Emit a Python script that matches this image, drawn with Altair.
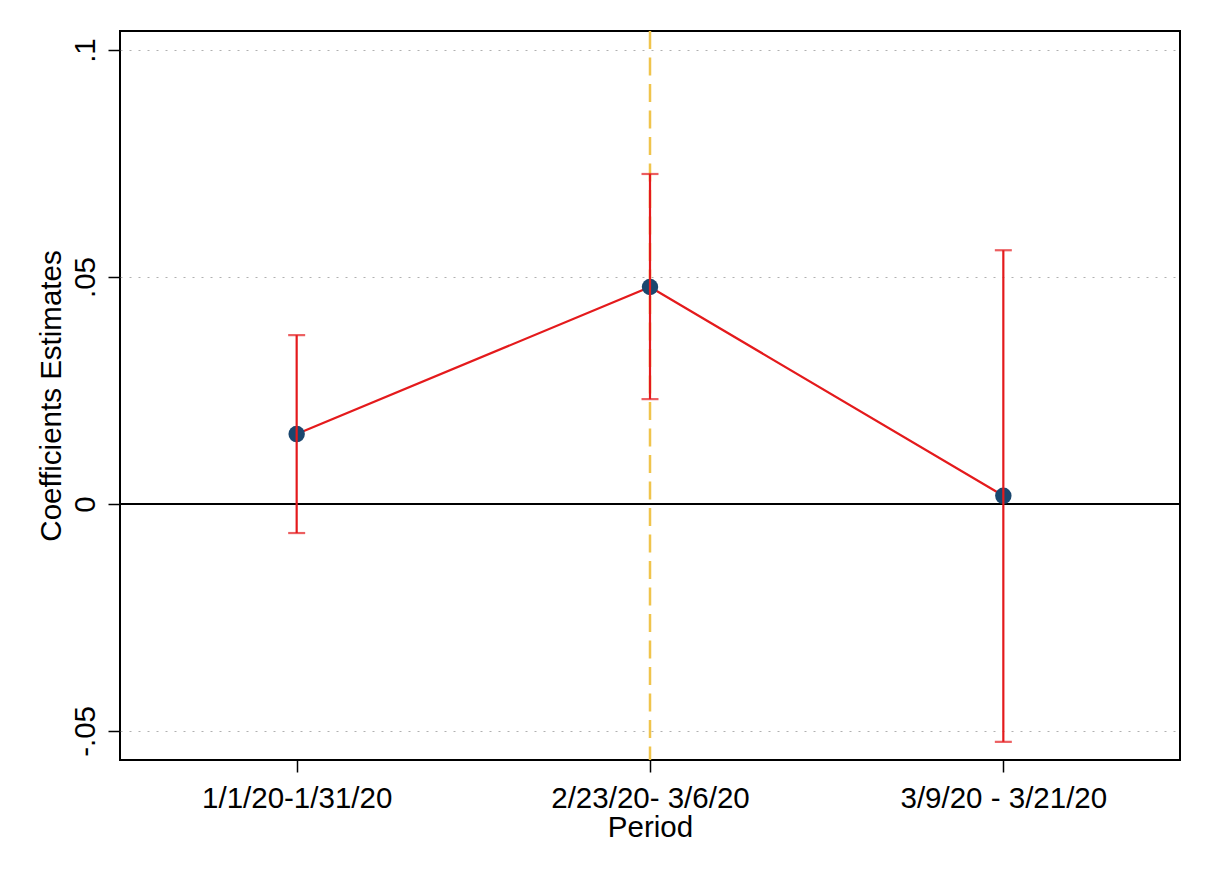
import altair as alt
import pandas as pd

periods = [1, 2, 3]
period_labels = ["1/1/20-1/31/20", "2/23/20- 3/6/20", "3/9/20 - 3/21/20"]
coef = [0.0154, 0.0478, 0.0018]
ci_low = [-0.0064, 0.0231, -0.0524]
ci_high = [0.0372, 0.0727, 0.0559]
y_ticks = [-0.05, 0, 0.05, 0.1]
y_tick_labels = ["-.05", "0", ".05", ".1"]
event_period = [2]
zero_line = [0]

df = pd.DataFrame({"period": periods, "label": period_labels, "coef": coef,
                   "lo": ci_low, "hi": ci_high})

x_label_expr = " : ".join(
    [f"datum.value == {p} ? '{l}'" for p, l in zip(periods, period_labels)]) + " : ''"
y_label_expr = " : ".join(
    [f"abs(datum.value - ({v})) < 1e-9 ? '{l}'" for v, l in zip(y_ticks, y_tick_labels)]) + " : ''"

FONT = "Liberation Sans"
RED = "#E41A1C"
NAVY = "#1A476F"

xscale = alt.Scale(domain=[0.5, 3.5], nice=False, zero=False)
yscale = alt.Scale(domain=[-0.0564, 0.1042], nice=False, zero=False)

xaxis = alt.Axis(values=periods, labelExpr=x_label_expr, title="Period", grid=False,
                 domain=False, tickSize=12, tickColor="black", tickWidth=1.5,
                 labelFont=FONT, labelFontSize=29.5, labelColor="black", labelPadding=12,
                 labelLimit=0, labelOverlap=False,
                 titleFont=FONT, titleFontSize=29.5, titleFontWeight="normal",
                 titleColor="black", titlePadding=1)
yaxis = alt.Axis(values=y_ticks, labelExpr=y_label_expr, title="Coefficients Estimates",
                 grid=True, gridColor="#b0b0b0", gridDash=[2, 7], gridWidth=1,
                 domain=False, tickSize=12, tickColor="black", tickWidth=1.5,
                 labelFont=FONT, labelFontSize=29.5, labelColor="black", labelAngle=270,
                 labelAlign="center", labelBaseline="alphabetic", labelPadding=14,
                 labelLimit=0, labelOverlap=False,
                 titleFont=FONT, titleFontSize=29.5, titleFontWeight="normal",
                 titleColor="black", titlePadding=4)

base = alt.Chart(df)

grid_layer = base.mark_point(opacity=0).encode(
    x=alt.X("period:Q", scale=xscale, axis=xaxis),
    y=alt.Y("coef:Q", scale=yscale, axis=yaxis),
)

zero = alt.Chart(pd.DataFrame({"z": zero_line})).mark_rule(color="black", strokeWidth=2).encode(
    y=alt.Y("z:Q", scale=yscale)
)

vline = alt.Chart(pd.DataFrame({"p": event_period})).mark_rule(
    color="#F0C44C", strokeWidth=2.5, strokeDash=[18, 8.5]
).encode(x=alt.X("p:Q", scale=xscale))

line = base.mark_line(color=RED, strokeWidth=2.2).encode(
    x=alt.X("period:Q", scale=xscale), y=alt.Y("coef:Q", scale=yscale)
)

points = base.mark_circle(color=NAVY, opacity=1, size=270).encode(
    x=alt.X("period:Q", scale=xscale), y=alt.Y("coef:Q", scale=yscale)
)

bars = base.mark_rule(color=RED, strokeWidth=2.2).encode(
    x=alt.X("period:Q", scale=xscale), y=alt.Y("lo:Q", scale=yscale), y2="hi:Q"
)

cap_lo = base.mark_tick(color=RED, thickness=2.2, size=17, orient="horizontal").encode(
    x=alt.X("period:Q", scale=xscale), y=alt.Y("lo:Q", scale=yscale)
)
cap_hi = base.mark_tick(color=RED, thickness=2.2, size=17, orient="horizontal").encode(
    x=alt.X("period:Q", scale=xscale), y=alt.Y("hi:Q", scale=yscale)
)

chart = alt.layer(grid_layer, zero, vline, line, points, bars, cap_lo, cap_hi).properties(
    width=1060, height=729,
    background="white",
    autosize=alt.AutoSizeParams(type="none"),
    padding={"left": 112, "top": 23, "right": 20, "bottom": 100},
).configure_view(stroke="black", strokeWidth=2)

chart.save("out.html", embed_options={"renderer": "svg", "actions": False})
